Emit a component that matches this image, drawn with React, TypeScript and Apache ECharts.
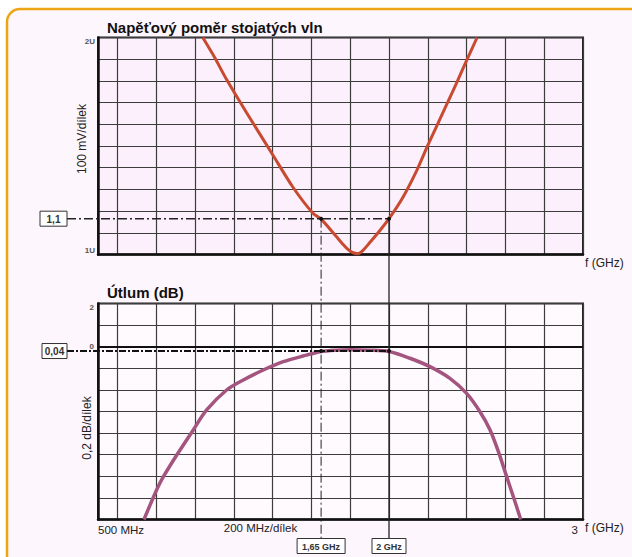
import React, { useEffect, useRef } from 'react';
import * as echarts from 'echarts';

// ---- data ----
const vswrFreqMHz = [1040, 1100, 1163, 1266, 1395, 1505, 1608, 1650, 1732, 1760, 1790, 1815, 1840, 1865, 1902, 1950, 2000, 2072, 2144, 2201, 2304, 2351, 2402, 2454];
const vswrRatio = [2.0, 1.91, 1.806, 1.653, 1.468, 1.31, 1.19, 1.163, 1.079, 1.05, 1.022, 1.008, 1.004, 1.018, 1.056, 1.107, 1.165, 1.264, 1.389, 1.505, 1.704, 1.796, 1.898, 2.0];

const attFreqMHz = [737, 802, 837, 906, 991, 1060, 1163, 1249, 1352, 1455, 1558, 1650, 1720, 1800, 1900, 2000, 2108, 2211, 2314, 2400, 2469, 2521, 2564, 2598, 2641, 2679];
const attDb = [-1.6, -1.327, -1.204, -1.003, -0.771, -0.586, -0.401, -0.308, -0.216, -0.139, -0.086, -0.045, -0.032, -0.028, -0.032, -0.045, -0.107, -0.185, -0.293, -0.432, -0.602, -0.771, -0.972, -1.157, -1.389, -1.6];

// axes
const freqMin = 500;
const freqMax = 3000;
const freqStep = 100;
const vswrMin = 1;
const vswrMax = 2;
const vswrStep = 0.1;
const attMin = -1.6;
const attMax = 0.4;
const attStep = 0.2;

// tick labels
const freqTickLabels: [number, string][] = [[500, '500 MHz'], [3000, '3']];
const vswrTickLabels: [number, string][] = [[2, '2U'], [1, '1U']];
const attTickLabels: [number, string][] = [[0.4, '2'], [0, '0']];

// markers
const markerFreqs = [1650, 2000];
const markerFreqLabels = ['1,65 GHz', '2 GHz'];
const markerVswr = 1.165;
const markerVswrLabel = '1,1';
const markerAtt = -0.04;
const markerAttLabel = '0,04';

const pick = (list: [number, string][]) => (v: number) => {
  for (const [k, s] of list) if (Math.abs(v - k) < 1e-6) return s;
  return '';
};

const FONT = 'Liberation Sans, Arial, sans-serif';
const GRID_COLOR = '#3c3c3c';

export default function App() {
  const ref = useRef<HTMLDivElement>(null);
  useEffect(() => {
    if (!ref.current) return;
    const chart = echarts.init(ref.current, null, { renderer: 'svg' });
    const xAxisBase = (gridIndex: number, showLabels: boolean) => ({
      type: 'value',
      gridIndex,
      min: freqMin,
      max: freqMax,
      interval: freqStep,
      axisLine: { show: true, onZero: false, lineStyle: { color: '#111', width: 2.5 } },
      axisTick: { show: false },
      axisLabel: {
        show: showLabels,
        formatter: pick(freqTickLabels),
        fontFamily: FONT,
        fontSize: 11.5,
        color: '#222',
        margin: 4,
        alignMinLabel: 'left',
        alignMaxLabel: 'right',
        padding: [0, 5, 0, 0],
      },
      splitLine: { show: true, lineStyle: { color: ['rgba(0,0,0,0)', GRID_COLOR], width: 1.2 } },
    });
    const option: any = {
      animation: false,
      backgroundColor: 'transparent',
      grid: [
        { left: 98, top: 37.5, width: 485, height: 217, show: true, backgroundColor: '#fbf0fb', borderColor: '#222', borderWidth: 2 },
        { left: 98, top: 303.5, width: 485, height: 216, show: true, backgroundColor: '#fefafe', borderColor: '#222', borderWidth: 2 },
      ],
      xAxis: [xAxisBase(0, false), xAxisBase(1, true)],
      yAxis: [
        {
          type: 'value', gridIndex: 0, min: vswrMin, max: vswrMax, interval: vswrStep,
          axisLine: { show: true, lineStyle: { color: '#111', width: 2.5 } },
          axisTick: { show: false },
          axisLabel: {
            formatter: pick(vswrTickLabels), fontFamily: FONT, fontSize: 8, fontWeight: 'bold', color: '#555', margin: 3,
            verticalAlignMaxLabel: 'top', verticalAlignMinLabel: 'bottom',
          },
          splitLine: { show: true, lineStyle: { color: GRID_COLOR, width: 1.2 } },
        },
        {
          type: 'value', gridIndex: 1, min: attMin, max: attMax, interval: attStep,
          axisLine: { show: true, onZero: false, lineStyle: { color: '#111', width: 2.5 } },
          axisTick: { show: false },
          axisLabel: {
            formatter: pick(attTickLabels), fontFamily: FONT, fontSize: 8, fontWeight: 'bold', color: '#555', margin: 4,
            verticalAlignMaxLabel: 'top',
          },
          splitLine: { show: true, lineStyle: { color: GRID_COLOR, width: 1.2 } },
        },
      ],
      series: [
        {
          type: 'line', xAxisIndex: 0, yAxisIndex: 0, symbol: 'none', smooth: 0.3, clip: true,
          data: vswrFreqMHz.map((f, i) => [f, vswrRatio[i]]),
          lineStyle: { color: '#c84a30', width: 3 },
          z: 5,
        },
        {
          type: 'line', xAxisIndex: 1, yAxisIndex: 1, symbol: 'none', smooth: 0.3, clip: true,
          data: attFreqMHz.map((f, i) => [f, attDb[i]]),
          lineStyle: { color: '#a4557f', width: 3.5 },
          z: 5,
          markLine: {
            silent: true, symbol: 'none', label: { show: false },
            lineStyle: { color: '#111', width: 2.2, type: 'solid' },
            data: [{ yAxis: 0 }],
            z: 3,
          },
        },
      ],
    };
    chart.setOption(option);

    const pTop1 = chart.convertToPixel({ gridIndex: 0 } as any, [markerFreqs[0], markerVswr]) as number[];
    const pTop2 = chart.convertToPixel({ gridIndex: 0 } as any, [markerFreqs[1], markerVswr]) as number[];
    const pBot1 = chart.convertToPixel({ gridIndex: 1 } as any, [markerFreqs[0], markerAtt]) as number[];
    const pBot2 = chart.convertToPixel({ gridIndex: 1 } as any, [markerFreqs[1], markerAtt]) as number[];
    const gridLeft = chart.convertToPixel({ gridIndex: 1 } as any, [freqMin, attMin]) as number[];
    const boxTop = gridLeft[1] + 19;
    const boxH = 15;
    const boxRight = 67;

    const dash = [9, 3, 2, 3];
    const g: any[] = [
      { type: 'rect', z: -10, shape: { x: 7, y: 9, width: 680, height: 600, r: 13 }, style: { fill: '#fdf6fd', stroke: '#eea514', lineWidth: 2.5 } },
      // titles
      { type: 'text', z: 20, x: 107, y: 27.5, style: { text: 'Napěťový poměr stojatých vln', font: `bold 15px ${FONT}`, fill: '#111', align: 'left', verticalAlign: 'middle' } },
      { type: 'text', z: 20, x: 107, y: 292.5, style: { text: 'Útlum (dB)', font: `bold 15px ${FONT}`, fill: '#111', align: 'left', verticalAlign: 'middle' } },
      // axis unit texts
      { type: 'text', z: 20, x: 82, y: 139, rotation: Math.PI / 2, style: { text: '100 mV/dílek', font: `12px ${FONT}`, fill: '#222', align: 'center', verticalAlign: 'middle' } },
      { type: 'text', z: 20, x: 87, y: 428, rotation: Math.PI / 2, style: { text: '0,2 dB/dílek', font: `12px ${FONT}`, fill: '#222', align: 'center', verticalAlign: 'middle' } },
      { type: 'text', z: 20, x: 260.5, y: 528, style: { text: '200 MHz/dílek', font: `11.5px ${FONT}`, fill: '#222', align: 'center', verticalAlign: 'middle' } },
      { type: 'text', z: 20, x: 585, y: 263, style: { text: 'f (GHz)', font: `12px ${FONT}`, fill: '#222', align: 'left', verticalAlign: 'middle' } },
      { type: 'text', z: 20, x: 585, y: 528, style: { text: 'f (GHz)', font: `12px ${FONT}`, fill: '#222', align: 'left', verticalAlign: 'middle' } },
      // reference lines
      { type: 'line', z: 15, shape: { x1: boxRight, y1: pTop1[1], x2: pTop2[0], y2: pTop2[1] }, style: { stroke: '#222', lineWidth: 1.5, lineDash: dash } },
      { type: 'line', z: 15, shape: { x1: boxRight, y1: pBot1[1], x2: pBot2[0], y2: pBot2[1] }, style: { stroke: '#111', lineWidth: 2, lineDash: [7, 2, 2, 2] } },
      { type: 'line', z: 15, shape: { x1: pTop1[0], y1: pTop1[1], x2: pTop1[0], y2: boxTop }, style: { stroke: '#222', lineWidth: 1, lineDash: dash } },
      { type: 'line', z: 15, shape: { x1: pTop2[0], y1: pTop2[1], x2: pTop2[0], y2: boxTop }, style: { stroke: '#222', lineWidth: 1.3 } },
    ];
    // dots
    [pTop1, pTop2, pBot1, pBot2].forEach((p) => {
      g.push({ type: 'circle', z: 16, shape: { cx: p[0], cy: p[1], r: 2 }, style: { fill: '#111' } });
    });
    // value boxes
    const box = (cx: number, cy: number, w: number, text: string, fs: number) => {
      g.push({ type: 'rect', z: 17, shape: { x: cx - w / 2, y: cy - boxH / 2, width: w, height: boxH }, style: { fill: '#fff', stroke: '#333', lineWidth: 1 } });
      g.push({ type: 'text', z: 18, x: cx, y: cy + 0.5, style: { text, font: `bold ${fs}px ${FONT}`, fill: '#333', align: 'center', verticalAlign: 'middle' } });
    };
    box(boxRight - 13.5, pTop1[1], 27, markerVswrLabel, 10);
    box(boxRight - 12.5, pBot1[1], 25, markerAttLabel, 10);
    markerFreqs.forEach((f, i) => {
      const p = i === 0 ? pTop1 : pTop2;
      const w = i === 0 ? 48 : 34;
      box(p[0], boxTop + boxH / 2, w, markerFreqLabels[i], 9);
    });
    chart.setOption({ graphic: g });

    return () => chart.dispose();
  }, []);
  return (
    <div
      ref={ref}
      style={{ position: 'fixed', left: 0, top: 0, width: 632, height: 557, background: '#ffffff', overflow: 'hidden' }}
    />
  );
}
